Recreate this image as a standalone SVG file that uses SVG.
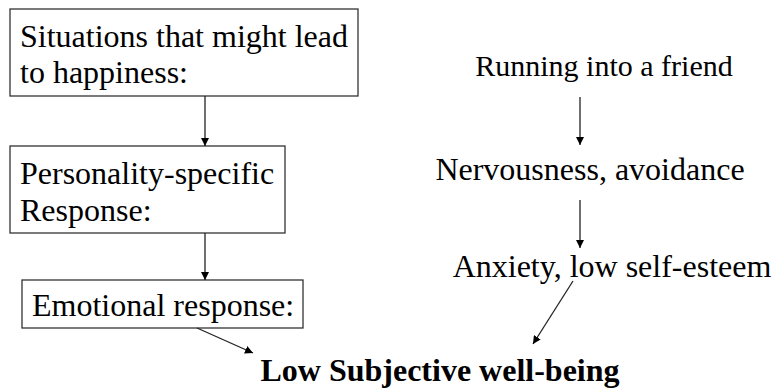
<svg xmlns="http://www.w3.org/2000/svg" width="775" height="390" viewBox="0 0 775 390">
  <style>
    .box { fill: #ffffff; stroke: #333333; stroke-width: 1.3; }
    .lbl { font-family: Liberation Serif, serif; font-size: 32px; fill: #000000; }
    .small { font-size: 30px; }
    .bold { font-weight: bold; }
    .edge { stroke: #222222; stroke-width: 1.3; fill: none; marker-end: url(#head); }
  </style>
  <defs>
    <marker id="head" viewBox="0 0 10 10" refX="10" refY="5" markerWidth="8" markerHeight="8" markerUnits="userSpaceOnUse" orient="auto">
      <path d="M0,0 L10,5 L0,10 Z" fill="#000000"/>
    </marker>
  </defs>

  <rect width="775" height="390" fill="#ffffff"/>

  <!-- left column: boxed steps -->
  <g id="situations">
    <rect class="box" x="10" y="9" width="348" height="87"/>
    <text class="lbl" x="20" y="47">Situations that might lead</text>
    <text class="lbl" x="20" y="83">to happiness:</text>
  </g>

  <g id="personality">
    <rect class="box" x="10" y="146" width="275" height="87"/>
    <text class="lbl" x="20" y="184">Personality-specific</text>
    <text class="lbl" x="20" y="221">Response:</text>
  </g>

  <g id="emotional">
    <rect class="box" x="22" y="280" width="281" height="48"/>
    <text class="lbl" x="32" y="316">Emotional response:</text>
  </g>

  <!-- right column: example chain -->
  <g id="friend">
    <text class="lbl small" x="604" y="76" text-anchor="middle">Running into a friend</text>
  </g>

  <g id="nervousness">
    <text class="lbl" x="590" y="180" text-anchor="middle">Nervousness, avoidance</text>
  </g>

  <g id="anxiety">
    <text class="lbl" x="612" y="277" text-anchor="middle">Anxiety, low self-esteem</text>
  </g>

  <g id="outcome">
    <text class="lbl bold" x="440" y="381" text-anchor="middle">Low Subjective well-being</text>
  </g>

  <g id="connectors">
    <line class="edge" x1="205" y1="96" x2="205" y2="146"/>
    <line class="edge" x1="205" y1="233" x2="205" y2="280"/>
    <line class="edge" x1="197" y1="328" x2="253" y2="353"/>
    <line class="edge" x1="580" y1="97" x2="580" y2="145"/>
    <line class="edge" x1="580" y1="200" x2="580" y2="248"/>
    <line class="edge" x1="573" y1="281" x2="533" y2="344"/>
  </g>
</svg>
